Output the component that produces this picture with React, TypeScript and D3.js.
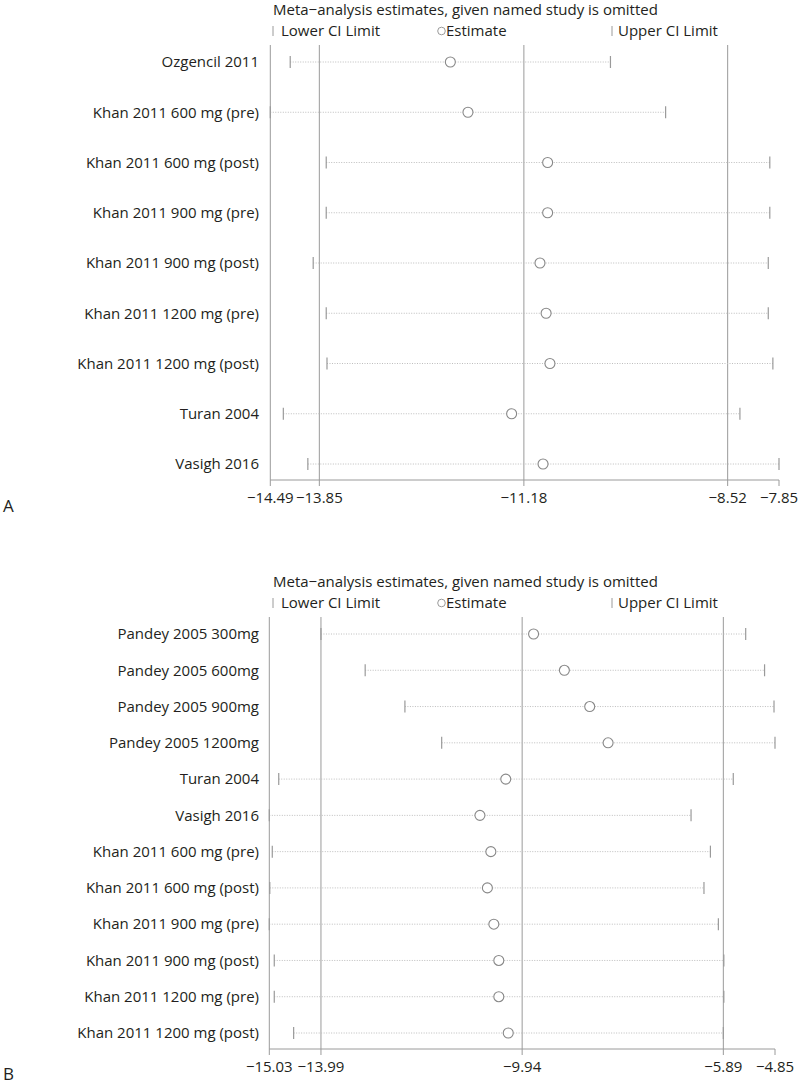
import { useEffect, useRef } from 'react'
import * as d3 from 'd3'

// Panel A
const studiesA = [
  'Ozgencil 2011',
  'Khan 2011 600 mg (pre)',
  'Khan 2011 600 mg (post)',
  'Khan 2011 900 mg (pre)',
  'Khan 2011 900 mg (post)',
  'Khan 2011 1200 mg (pre)',
  'Khan 2011 1200 mg (post)',
  'Turan 2004',
  'Vasigh 2016',
]
const lowerA = [-14.23, -14.49, -13.76, -13.76, -13.93, -13.76, -13.75, -14.32, -14.0]
const estA = [-12.14, -11.91, -10.87, -10.87, -10.97, -10.89, -10.84, -11.34, -10.93]
const upperA = [-10.05, -9.33, -7.97, -7.97, -7.99, -7.99, -7.93, -8.36, -7.85]
const ticksA = [-14.49, -13.85, -11.18, -8.52, -7.85]

// Panel B
const studiesB = [
  'Pandey 2005 300mg',
  'Pandey 2005 600mg',
  'Pandey 2005 900mg',
  'Pandey 2005 1200mg',
  'Turan 2004',
  'Vasigh 2016',
  'Khan 2011 600 mg (pre)',
  'Khan 2011 600 mg (post)',
  'Khan 2011 900 mg (pre)',
  'Khan 2011 900 mg (post)',
  'Khan 2011 1200 mg (pre)',
  'Khan 2011 1200 mg (post)',
]
const lowerB = [-13.99, -13.1, -12.3, -11.56, -14.84, -15.03, -14.97, -15.02, -15.03, -14.93, -14.93, -14.54]
const estB = [-9.71, -9.09, -8.58, -8.21, -10.27, -10.79, -10.57, -10.64, -10.51, -10.41, -10.41, -10.22]
const upperB = [-5.44, -5.06, -4.87, -4.85, -5.69, -6.54, -6.15, -6.28, -5.99, -5.88, -5.88, -5.89]
const ticksB = [-15.03, -13.99, -9.94, -5.89, -4.85]

const FONT = '"Open Sans", sans-serif'
const TEXT = '#231f20'
const REF = '#9a9a9a'
const DOT = '#bdbdbd'
const FS = '15px'

export default function App() {
  const svgRef = useRef<SVGSVGElement>(null)

  useEffect(() => {
    if (!svgRef.current) return
    const svg = d3.select(svgRef.current)
    svg.selectAll('*').remove()

    const drawPanel = (
      letter: string,
      studies: string[],
      lower: number[],
      est: number[],
      upper: number[],
      ticks: number[],
      top: number,
      bottom: number,
      xRange: [number, number]
    ) => {
      const g = svg.append('g')
      const x = d3.scaleLinear().domain([ticks[0], ticks[ticks.length - 1]]).range(xRange)
      const y = d3.scalePoint().domain(studies).range([top + 17, bottom - 16])

      // Title and legend
      g.append('text')
        .attr('x', 273)
        .attr('y', top - 30)
        .style('font-size', FS)
        .attr('fill', TEXT)
        .text('Meta\u2212analysis estimates, given named study is omitted')

      const ly = top - 9
      g.append('line').attr('x1', 273).attr('x2', 273).attr('y1', ly - 10).attr('y2', ly).attr('stroke', REF)
      g.append('text').attr('x', 281).attr('y', ly).style('font-size', FS).attr('fill', TEXT).text('Lower CI Limit')
      g.append('circle').attr('cx', 441.5).attr('cy', ly - 5).attr('r', 3.8).attr('fill', 'none').attr('stroke', REF)
      g.append('text').attr('x', 446).attr('y', ly).style('font-size', FS).attr('fill', TEXT).text('Estimate')
      g.append('line').attr('x1', 612).attr('x2', 612).attr('y1', ly - 10).attr('y2', ly).attr('stroke', REF)
      g.append('text').attr('x', 618).attr('y', ly).style('font-size', FS).attr('fill', TEXT).text('Upper CI Limit')

      // Left axis line
      g.append('line')
        .attr('x1', x(ticks[0])).attr('x2', x(ticks[0]))
        .attr('y1', top).attr('y2', bottom)
        .attr('stroke', REF)

      // Reference lines at overall estimate and its CI
      ticks.slice(1, 4).forEach(t => {
        g.append('line')
          .attr('x1', x(t)).attr('x2', x(t))
          .attr('y1', top).attr('y2', bottom)
          .attr('stroke', REF)
      })

      // Bottom axis
      g.append('line')
        .attr('x1', x(ticks[0])).attr('x2', x(ticks[ticks.length - 1]))
        .attr('y1', bottom).attr('y2', bottom)
        .attr('stroke', REF)
      ticks.forEach(t => {
        g.append('line')
          .attr('x1', x(t)).attr('x2', x(t))
          .attr('y1', bottom).attr('y2', bottom + 6)
          .attr('stroke', REF)
        g.append('text')
          .attr('x', x(t))
          .attr('y', bottom + 23)
          .attr('text-anchor', 'middle')
          .style('font-size', FS)
          .attr('fill', TEXT)
          .text(d3.format('.2f')(t).replace('-', '\u2212'))
      })

      // Study labels
      studies.forEach(s => {
        g.append('text')
          .attr('x', 259)
          .attr('y', y(s)!)
          .attr('dy', '0.35em')
          .attr('text-anchor', 'end')
          .style('font-size', FS)
          .attr('fill', TEXT)
          .text(s)
      })

      // CI dotted lines, limit ticks, estimates
      studies.forEach((s, i) => {
        const cy = y(s)!
        g.append('line')
          .attr('x1', x(lower[i])).attr('x2', x(upper[i]))
          .attr('y1', cy).attr('y2', cy)
          .attr('stroke', DOT)
          .attr('stroke-width', 1)
          .attr('stroke-dasharray', '1,1.5')
        ;[lower[i], upper[i]].forEach(v => {
          g.append('line')
            .attr('x1', x(v)).attr('x2', x(v))
            .attr('y1', cy - 6).attr('y2', cy + 6)
            .attr('stroke', REF)
            .attr('stroke-width', 1.2)
        })
        g.append('circle')
          .attr('cx', x(est[i]))
          .attr('cy', cy)
          .attr('r', 5)
          .attr('fill', '#fff')
          .attr('stroke', '#888')
          .attr('stroke-width', 1.1)
      })

      // Panel letter
      g.append('text')
        .attr('x', 3)
        .attr('y', Math.min(bottom + 32, 1080))
        .style('font-size', '17px')
        .attr('fill', TEXT)
        .text(letter)
    }

    drawPanel('A', studiesA, lowerA, estA, upperA, ticksA, 45, 480, [270.3, 779])
    drawPanel('B', studiesB, lowerB, estB, upperB, ticksB, 617, 1049, [269.3, 775])
  }, [])

  return (
    <div style={{ position: 'absolute', left: 0, top: 0 }}>
      <svg
        ref={svgRef}
        width={800}
        height={1085}
        style={{ display: 'block', background: '#fff', fontFamily: FONT }}
      ></svg>
    </div>
  )
}
